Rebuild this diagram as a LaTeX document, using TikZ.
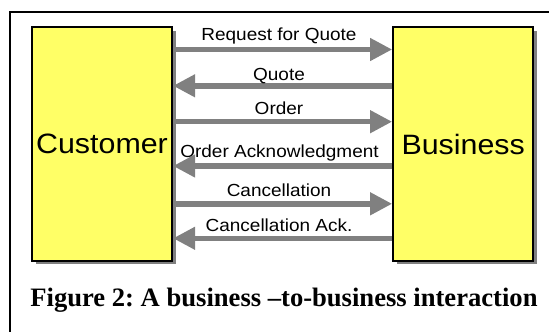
\documentclass[tikz,border=0pt]{standalone}
\usepackage{fontspec}
\setmainfont{Liberation Serif}
\newfontfamily\labelfont[FakeStretch=1.085]{Liberation Sans}
\usetikzlibrary{arrows.meta,shadows}
\frenchspacing
\definecolor{boxyellow}{RGB}{255,255,102}
\definecolor{msggray}{RGB}{128,128,128}
\tikzset{
  party/.style={draw=black, line width=2pt, fill=boxyellow, inner sep=0pt,
    minimum width=140pt, minimum height=233.4pt,
    font=\labelfont\fontsize{28}{30}\selectfont,
    drop shadow={shadow xshift=3.5pt, shadow yshift=-3.5pt, fill=msggray, opacity=1}},
  msg/.style={draw=msggray, line width=5.5pt,
    -{Triangle[length=22pt, width=21.5pt]}, shorten <=0pt},
  msglabel/.style={anchor=base, inner sep=0pt,
    font=\labelfont\fontsize{17.5}{20}\selectfont},
  caption/.style={anchor=base, inner sep=0pt,
    font=\bfseries\fontsize{26.6}{30}\selectfont}
}
\begin{document}
\begin{tikzpicture}[x=1pt, y=-1pt]
  \useasboundingbox (0,0) rectangle (549,332);
  % frame around the figure (continues past the page edge)
  \begin{scope}
    \clip (0,0) rectangle (549,332);
    \draw[line width=2pt] (10,12) rectangle (580,360);
  \end{scope}

  % the two parties
  \node[party] (cust) at (102,144) {Customer};
  \node[party] (bus) at (463.2,144) {Business};

  % heights of the message lines
  \coordinate (m1) at (0,49.5);
  \coordinate (m2) at (0,85.8);
  \coordinate (m3) at (0,121.7);
  \coordinate (m4) at (0,166);
  \coordinate (m5) at (0,203.8);
  \coordinate (m6) at (0,238.3);

  % messages exchanged
  \draw[msg] (cust.east |- m1) -- (bus.west |- m1);
  \draw[msg] (bus.west |- m2) -- (cust.east |- m2);
  \draw[msg] (cust.east |- m3) -- (bus.west |- m3);
  \draw[msg] (bus.west |- m4) -- (cust.east |- m4);
  \draw[msg] (cust.east |- m5) -- (bus.west |- m5);
  \draw[msg] (bus.west |- m6) -- (cust.east |- m6);

  \node[msglabel] (l1) at (279,40.7) {Request for Quote};
  \node[msglabel] (l2) at (279,80) {Quote};
  \node[msglabel] (l3) at (279,114.3) {Order};
  \node[msglabel] (l4) at (279.5,157.3) {Order Acknowledgment};
  \node[msglabel] (l5) at (279,196.7) {Cancellation};
  \node[msglabel] (l6) at (279,231.7) {Cancellation Ack.};

  % caption
  \node[caption] (cap) at (284,306.7) {Figure 2: A business \textendash to-business interaction};
\end{tikzpicture}
\end{document}
